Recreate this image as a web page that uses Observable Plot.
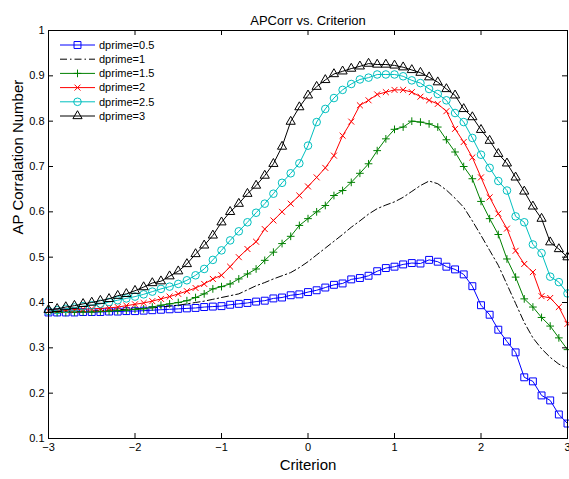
<!DOCTYPE html>
<html><head><meta charset="utf-8">
<script src="https://cdn.jsdelivr.net/npm/d3@7"></script>
<script src="https://cdn.jsdelivr.net/npm/@observablehq/plot@0.6"></script>
<style>
html,body{margin:0;padding:0;background:#fff;}
#wrap{position:relative;width:569px;height:479px;overflow:hidden;}
#legend{position:absolute;left:0;top:0;pointer-events:none;}
</style></head><body><div id="wrap"></div>
<script>
// ---- data ----
const criterion = [-3.0,-2.9,-2.8,-2.7,-2.6,-2.5,-2.4,-2.3,-2.2,-2.1,
  -2.0,-1.9,-1.8,-1.7,-1.6,-1.5,-1.4,-1.3,-1.2,-1.1,
  -1.0,-0.9,-0.8,-0.7,-0.6,-0.5,-0.4,-0.3,-0.2,-0.1,
  0.0,0.1,0.2,0.3,0.4,0.5,0.6,0.7,0.8,0.9,
  1.0,1.1,1.2,1.3,1.4,1.5,1.6,1.7,1.8,1.9,
  2.0,2.1,2.2,2.3,2.4,2.5,2.6,2.7,2.8,2.9,
  3.0];
const dprime05 = [0.378,0.378,0.378,0.378,0.379,0.379,0.379,0.380,0.380,0.381,
  0.381,0.382,0.383,0.384,0.385,0.386,0.387,0.388,0.390,0.391,
  0.392,0.395,0.397,0.399,0.402,0.404,0.409,0.411,0.416,0.418,
  0.423,0.427,0.433,0.439,0.442,0.451,0.454,0.459,0.469,0.476,
  0.479,0.484,0.487,0.486,0.494,0.490,0.479,0.473,0.462,0.436,
  0.394,0.373,0.340,0.314,0.290,0.235,0.226,0.195,0.184,0.153,
  0.133];
const dprime1 = [0.379,0.379,0.380,0.380,0.381,0.381,0.382,0.383,0.384,0.385,
  0.386,0.387,0.388,0.390,0.392,0.394,0.397,0.400,0.403,0.407,
  0.411,0.415,0.419,0.428,0.437,0.444,0.452,0.459,0.466,0.477,
  0.490,0.505,0.520,0.535,0.550,0.566,0.580,0.595,0.607,0.615,
  0.622,0.632,0.645,0.658,0.668,0.662,0.648,0.630,0.610,0.580,
  0.548,0.515,0.482,0.440,0.398,0.356,0.322,0.298,0.279,0.264,
  0.255];
const dprime15 = [0.378,0.378,0.378,0.379,0.379,0.379,0.380,0.381,0.382,0.383,
  0.385,0.386,0.390,0.394,0.397,0.400,0.404,0.411,0.419,0.430,
  0.435,0.441,0.452,0.463,0.474,0.493,0.511,0.530,0.546,0.570,
  0.585,0.600,0.614,0.636,0.647,0.665,0.685,0.706,0.735,0.761,
  0.782,0.787,0.800,0.798,0.794,0.787,0.759,0.732,0.700,0.673,
  0.623,0.585,0.550,0.496,0.456,0.408,0.390,0.367,0.348,0.322,
  0.296];
const dprime2 = [0.381,0.382,0.383,0.384,0.385,0.386,0.387,0.388,0.390,0.393,
  0.396,0.399,0.403,0.408,0.413,0.419,0.425,0.432,0.441,0.452,
  0.460,0.479,0.500,0.518,0.534,0.562,0.581,0.600,0.618,0.636,
  0.656,0.676,0.697,0.724,0.768,0.799,0.835,0.846,0.859,0.864,
  0.869,0.869,0.864,0.854,0.846,0.838,0.822,0.783,0.754,0.720,
  0.676,0.632,0.596,0.563,0.514,0.485,0.467,0.414,0.410,0.390,
  0.353];
const dprime25 = [0.381,0.383,0.386,0.389,0.392,0.394,0.397,0.401,0.405,0.409,
  0.413,0.418,0.424,0.430,0.435,0.441,0.449,0.460,0.474,0.494,
  0.515,0.537,0.557,0.577,0.598,0.618,0.640,0.664,0.685,0.707,
  0.746,0.798,0.827,0.851,0.869,0.882,0.892,0.896,0.903,0.903,
  0.903,0.899,0.890,0.884,0.871,0.860,0.846,0.818,0.798,0.763,
  0.726,0.697,0.668,0.647,0.590,0.577,0.528,0.509,0.457,0.445,
  0.420];
const dprime3 = [0.384,0.386,0.390,0.393,0.397,0.400,0.404,0.408,0.415,0.419,
  0.426,0.434,0.443,0.447,0.458,0.469,0.485,0.507,0.526,0.548,
  0.577,0.600,0.618,0.640,0.658,0.680,0.706,0.744,0.799,0.831,
  0.857,0.876,0.891,0.904,0.910,0.916,0.921,0.927,0.925,0.925,
  0.923,0.919,0.913,0.907,0.897,0.886,0.871,0.857,0.827,0.809,
  0.781,0.757,0.728,0.707,0.676,0.645,0.612,0.585,0.533,0.518,
  0.500];
const seriesNames = ["dprime=0.5","dprime=1","dprime=1.5","dprime=2","dprime=2.5","dprime=3"];
const xTicks = [-3,-2,-1,0,1,2,3];
const yTicks = [0.1,0.2,0.3,0.4,0.5,0.6,0.7,0.8,0.9,1];
const titleText = "APCorr vs. Criterion";
const xLabel = "Criterion";
const yLabel = "AP Corralation Number";

// ---- styles ----
const seriesValues = [dprime05, dprime1, dprime15, dprime2, dprime25, dprime3];
const seriesStyle = [
  {color:"#0000ff", symbol:"square",   r:3.9, dash:null},
  {color:"#000000", symbol:null,       r:0,   dash:"7,3,1.5,3"},
  {color:"#008000", symbol:"plus",     r:2.6, dash:null},
  {color:"#ff0000", symbol:"times",    r:2.8, dash:null},
  {color:"#00bfbf", symbol:"circle",   r:3.8, dash:null},
  {color:"#000000", symbol:"triangle", r:3.4, dash:null}
];

const W = 569, H = 479, mL = 48, mR = 2, mT = 30, mB = 41;
const plotW = W - mL - mR, plotH = H - mT - mB, tick = 5;
const fmt = d => d < 0 ? "\u2212" + (-d) : String(+d.toFixed(1));

const marks = [];
seriesNames.forEach((name, k) => {
  const st = seriesStyle[k];
  const rows = criterion.map((x, i) => ({x, y: seriesValues[k][i], s: name}));
  marks.push(Plot.line(rows, {x:"x", y:"y", stroke: st.color, strokeWidth: 1,
    strokeDasharray: st.dash || undefined, curve: "linear"}));
  if (st.symbol) marks.push(Plot.dot(rows, {x:"x", y:"y", symbol: st.symbol, r: st.r,
    stroke: st.color, fill: "none", strokeWidth: 1}));
});

const chart = Plot.plot({
  width: W, height: H,
  marginLeft: mL, marginRight: mR, marginTop: mT, marginBottom: mB,
  style: {fontFamily: "'Liberation Sans', Arial, Helvetica, sans-serif", fontSize: "11px", background: "#fff", color: "#000"},
  x: {domain: [-3, 3], nice: false},
  y: {domain: [0.1, 1], nice: false},
  marks: [
    ...marks,
    Plot.frame({stroke: "#000", strokeWidth: 1}),
    // inward ticks
    Plot.tickX(xTicks, {x: d => d, stroke: "#000", insetTop: plotH - tick}),
    Plot.tickX(xTicks, {x: d => d, stroke: "#000", insetBottom: plotH - tick}),
    Plot.tickY(yTicks, {y: d => d, stroke: "#000", insetRight: plotW - tick}),
    Plot.tickY(yTicks, {y: d => d, stroke: "#000", insetLeft: plotW - tick}),
    Plot.axisX({ticks: xTicks, tickSize: 0, tickPadding: 5, tickFormat: fmt, label: null, fontSize: 11}),
    Plot.axisY({ticks: yTicks, tickSize: 0, tickPadding: 4, tickFormat: fmt, label: null, fontSize: 11}),
    Plot.text([titleText], {frameAnchor: "top", dy: -15, fontSize: 13, text: d => d}),
    Plot.text([xLabel], {frameAnchor: "bottom", dy: 31, fontSize: 15, text: d => d}),
    Plot.text([yLabel], {frameAnchor: "left", dx: -30, rotate: -90, fontSize: 15, text: d => d})
  ]
});
const wrap = document.getElementById("wrap");
wrap.appendChild(chart);

// ---- legend (overlay) ----
const leg = d3.select(wrap).append("svg").attr("id", "legend")
  .attr("width", W).attr("height", H);
const symMap = {square: d3.symbolSquare, plus: d3.symbolPlus, times: d3.symbolTimes,
  circle: d3.symbolCircle, triangle: d3.symbolTriangle};
seriesNames.forEach((name, k) => {
  const st = seriesStyle[k];
  const g = leg.append("g").attr("transform", `translate(0,${45 + k * 14.2})`);
  g.append("line").attr("x1", 60).attr("x2", 95).attr("y1", 0).attr("y2", 0)
    .attr("stroke", st.color).attr("stroke-width", 1)
    .attr("stroke-dasharray", st.dash || null);
  if (st.symbol) {
    g.append("path").attr("transform", "translate(77.5,0)")
      .attr("d", d3.symbol(symMap[st.symbol], Math.PI * st.r * st.r)())
      .attr("fill", "none").attr("stroke", st.color).attr("stroke-width", 1);
  }
  g.append("text").attr("x", 99).attr("y", 0).attr("dy", "0.35em")
    .attr("font-family", "'Liberation Sans', Arial, sans-serif").attr("font-size", 11)
    .text(name);
});
</script></body></html>
